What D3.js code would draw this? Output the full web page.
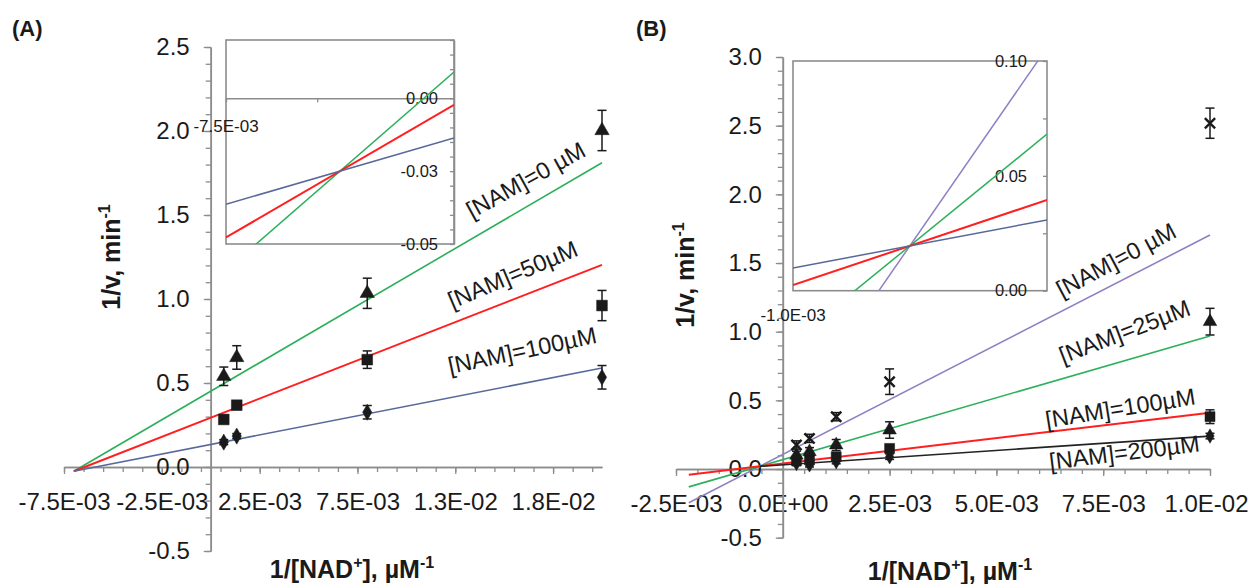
<!DOCTYPE html>
<html>
<head>
<meta charset="utf-8">
<script src="https://cdn.jsdelivr.net/npm/d3@7"></script>
<style>
  body { margin: 0; background: #fff; }
  svg { display: block; }
</style>
</head>
<body>
<svg id="chart" width="1251" height="584"></svg>
<script>
// ---------- Panel A: Lineweaver-Burk, NAM 0 / 50 / 100 µM ----------
const nadInvA = [0.000667, 0.00133, 0.008, 0.02];
const invRateA0 = [0.54, 0.652, 1.034, 2.003];
const errA0 = [0.055, 0.07, 0.09, 0.12];
const invRateA50 = [0.283, 0.368, 0.639, 0.961];
const errA50 = [0.02, 0.025, 0.052, 0.09];
const invRateA100 = [0.148, 0.184, 0.326, 0.534];
const errA100 = [0.015, 0.015, 0.04, 0.07];
const labelsA = ["[NAM]=0 µM", "[NAM]=50µM", "[NAM]=100µM"];
const slopesA = [68, 45.5, 22.75];          // fitted slopes
const crossA = [-0.007, -0.025];            // common intersection of the fits
const xMajorA = [-0.0075, -0.0025, 0.0025, 0.0075, 0.0125, 0.0175];
const xLabelsA = ["-7.5E-03", "-2.5E-03", "2.5E-03", "7.5E-03", "1.3E-02", "1.8E-02"];
const yMajorA = [-0.5, 0, 0.5, 1, 1.5, 2, 2.5];
const yLabelsA = ["-0.5", "0.0", "0.5", "1.0", "1.5", "2.0", "2.5"];
const insetXA = [-0.0075, -0.0071, -0.0067];
const insetXLabelA = "-7.5E-03";
const insetYA = [-0.05, -0.025, 0];
const insetYLabelsA = ["-0.05", "-0.03", "0.00"];

// ---------- Panel B: Lineweaver-Burk, NAM 0 / 25 / 100 / 200 µM ----------
const nadInvB = [0.00032, 0.000625, 0.00125, 0.0025, 0.01];
const invRateB0 = [0.175, 0.223, 0.381, 0.636, 2.518];
const errB0 = [0.03, 0.03, 0.03, 0.093, 0.11];
const invRateB25 = [0.10, 0.126, 0.175, 0.284, 1.073];
const errB25 = [0.03, 0.03, 0.04, 0.06, 0.097];
const invRateB100 = [0.06, 0.066, 0.09, 0.15, 0.381];
const errB100 = [0.02, 0.02, 0.02, 0.02, 0.05];
const invRateB200 = [0.04, 0.03, 0.053, 0.09, 0.24];
const errB200 = [0.015, 0.015, 0.015, 0.02, 0.02];
const labelsB = ["[NAM]=0 µM", "[NAM]=25µM", "[NAM]=100µM", "[NAM]=200µM"];
const slopesB = [159.8, 90.1, 37.05, 20.9];
const crossB = [-0.00054, 0.0195];
const lineStartB = [-0.0022, -0.0022, -0.0022, -0.00054];
const xMajorB = [-0.0025, 0, 0.0025, 0.005, 0.0075, 0.01];
const xLabelsB = ["-2.5E-03", "0.0E+00", "2.5E-03", "5.0E-03", "7.5E-03", "1.0E-02"];
const yMajorB = [-0.5, 0, 0.5, 1, 1.5, 2, 2.5, 3];
const yLabelsB = ["-0.5", "0.0", "0.5", "1.0", "1.5", "2.0", "2.5", "3.0"];
const insetYB = [0, 0.025, 0.05, 0.075, 0.1];
const insetYLabelsB = ["0.00", "", "0.05", "", "0.10"];
const insetXLabelB = "-1.0E-03";

// ---------- styling ----------
const FONT = '"Liberation Sans", Arial, Helvetica, sans-serif';
const AXIS = "#8c8c8c";
const INK = "#1a1a1a";
const GREEN = "#2bb05a", RED = "#ff1f1f", SLATE = "#58689a", PURPLE = "#8f80c4", BLACK = "#222";

const svg = d3.select("#chart").style("font-family", FONT);

const range = (a, b, step) => d3.range(Math.round((b - a) / step) + 1).map(i => +(a + i * step).toFixed(6));

function styleAxis(g, size) {
  g.select(".domain").attr("stroke", AXIS).attr("stroke-width", 1.6);
  g.selectAll(".tick line").attr("stroke", AXIS).attr("stroke-width", 1.3);
  g.selectAll("text").attr("fill", INK).style("font-size", size + "px").style("font-family", FONT);
}

function mainAxes(g, x, y, xMajor, xLabels, xMinorStep, yMajor, yLabels) {
  const [x0, x1] = x.domain(), [y0, y1] = y.domain();
  const xMinor = range(x0, x1, xMinorStep).filter(v => v <= x1 + 1e-9);
  const yMinor = range(y0, y1, 0.1);
  g.append("g").attr("transform", `translate(0,${y(0)})`)
    .call(d3.axisBottom(x).tickValues(xMinor).tickSize(5).tickSizeOuter(0).tickFormat(""))
    .call(s => styleAxis(s, 24));
  const xg = g.append("g").attr("transform", `translate(0,${y(0)})`)
    .call(d3.axisBottom(x).tickValues(xMajor).tickSize(7).tickSizeOuter(0).tickPadding(19)
      .tickFormat((d, i) => xLabels[i]))
    .call(s => styleAxis(s, 24));
  g.append("g").attr("transform", `translate(${x(0)},0)`)
    .call(d3.axisLeft(y).tickValues(yMinor).tickSize(5).tickSizeOuter(0).tickFormat(""))
    .call(s => styleAxis(s, 24));
  g.append("g").attr("transform", `translate(${x(0)},0)`)
    .call(d3.axisLeft(y).tickValues(yMajor).tickSize(7).tickSizeOuter(0).tickPadding(14)
      .tickFormat((d, i) => yLabels[i]))
    .call(s => styleAxis(s, 24));
  return xg;
}

function fitLine(g, x, y, slope, cross, xFrom, xTo, color, width) {
  const f = v => cross[1] + slope * (v - cross[0]);
  g.append("line")
    .attr("x1", x(xFrom)).attr("y1", y(f(xFrom)))
    .attr("x2", x(xTo)).attr("y2", y(f(xTo)))
    .attr("stroke", color).attr("stroke-width", width);
}

function points(g, x, y, xs, ys, errs, symbolType, size, stroked) {
  const data = xs.map((v, i) => ({ x: v, y: ys[i], e: errs[i] }));
  const eb = g.append("g").attr("stroke", INK).attr("stroke-width", 1.5);
  data.forEach(d => {
    const px = x(d.x), top = y(d.y + d.e), bot = y(d.y - d.e);
    eb.append("line").attr("x1", px).attr("x2", px).attr("y1", top).attr("y2", bot);
    eb.append("line").attr("x1", px - 4.5).attr("x2", px + 4.5).attr("y1", top).attr("y2", top);
    eb.append("line").attr("x1", px - 4.5).attr("x2", px + 4.5).attr("y1", bot).attr("y2", bot);
  });
  g.append("g").selectAll("path").data(data).join("path")
    .attr("transform", d => `translate(${x(d.x)},${y(d.y)})`)
    .attr("d", d3.symbol(symbolType, size))
    .attr("fill", stroked ? "none" : INK)
    .attr("stroke", INK)
    .attr("stroke-width", stroked ? 2.4 : 0.5);
}

function lineLabel(g, px, py, angle, text) {
  g.append("text")
    .attr("transform", `translate(${px},${py}) rotate(${-angle})`)
    .attr("fill", INK).style("font-size", "23.5px")
    .text(text);
}

function yTitle(g, cx, cy) {
  const t = g.append("text")
    .attr("transform", `translate(${cx},${cy}) rotate(-90)`)
    .attr("text-anchor", "middle")
    .attr("fill", INK).style("font-size", "25px").style("font-weight", "bold");
  t.append("tspan").text("1/v, min");
  t.append("tspan").attr("dy", -10).style("font-size", "16px").text("-1");
}

function xTitle(g, cx, cy) {
  const t = g.append("text").attr("x", cx).attr("y", cy)
    .attr("text-anchor", "middle")
    .attr("fill", INK).style("font-size", "25px").style("font-weight", "bold");
  t.append("tspan").text("1/[NAD");
  t.append("tspan").attr("dy", -10).style("font-size", "16px").text("+");
  t.append("tspan").attr("dy", 10).text("], µM");
  t.append("tspan").attr("dy", -10).style("font-size", "16px").text("-1");
}

// ================= Panel A =================
const gA = svg.append("g");
const xA = d3.scaleLinear().domain([-0.0075, 0.02]).range([64, 602]);
const yA = d3.scaleLinear().domain([-0.5, 2.5]).range([551, 47]);
mainAxes(gA, xA, yA, xMajorA, xLabelsA, 0.001, yMajorA, yLabelsA);

const colorsA = [GREEN, RED, SLATE];
slopesA.forEach((s, i) => fitLine(gA, xA, yA, s, crossA, crossA[0], 0.02, colorsA[i], i === 1 ? 2 : 1.6));

points(gA, xA, yA, nadInvA, invRateA0, errA0, d3.symbolTriangle, 90, false);
points(gA, xA, yA, nadInvA, invRateA50, errA50, d3.symbolSquare, 115, false);
points(gA, xA, yA, nadInvA, invRateA100, errA100, d3.symbolDiamond, 75, false);

lineLabel(gA, xA(0.01336), yA(1.476), 29, labelsA[0]);
lineLabel(gA, xA(0.01234), yA(0.940), 23, labelsA[1]);
lineLabel(gA, xA(0.01223), yA(0.553), 12, labelsA[2]);

yTitle(gA, 120, 257);
xTitle(gA, 352, 578);
gA.append("text").attr("x", 12).attr("y", 36).attr("fill", INK)
  .style("font-size", "22px").style("font-weight", "bold").text("(A)");

// ---- inset A (zoom on the intersection) ----
const iA = svg.append("g");
const ixA = d3.scaleLinear().domain([-0.0075, -0.0065]).range([226, 454]);
const iyA = d3.scaleLinear().domain([-0.05, 0.02]).range([244, 40]);
svg.append("clipPath").attr("id", "clipA").append("rect")
  .attr("x", 226).attr("y", 40).attr("width", 228).attr("height", 204);
iA.append("rect").attr("x", 226).attr("y", 40).attr("width", 228).attr("height", 204)
  .attr("fill", "#fff").attr("stroke", AXIS).attr("stroke-width", 1.6);
iA.append("g").attr("transform", `translate(0,${iyA(0)})`)
  .call(d3.axisBottom(ixA).tickValues(insetXA).tickSize(4).tickSizeOuter(0).tickFormat(""))
  .call(s => styleAxis(s, 16));
iA.append("g").attr("transform", `translate(454,0)`)
  .call(d3.axisLeft(iyA).tickValues(range(-0.05, 0.02, 0.005)).tickSize(4).tickSizeOuter(0).tickFormat(""))
  .call(s => styleAxis(s, 16));
iA.append("g").attr("transform", `translate(454,0)`)
  .call(d3.axisLeft(iyA).tickValues(insetYA).tickSize(0).tickSizeOuter(0).tickPadding(16)
    .tickFormat((d, i) => insetYLabelsA[i]))
  .call(s => styleAxis(s, 16.5))
  .call(s => s.select(".domain").remove());
iA.append("text").attr("x", ixA(insetXA[0])).attr("y", iyA(0) + 34)
  .attr("text-anchor", "middle").attr("fill", INK).style("font-size", "17px").text(insetXLabelA);
const iAl = iA.append("g").attr("clip-path", "url(#clipA)");
slopesA.forEach((s, i) => fitLine(iAl, ixA, iyA, s, crossA, -0.0075, -0.0065, colorsA[i], i === 1 ? 2 : 1.5));

// ================= Panel B =================
const gB = svg.append("g");
const xB = d3.scaleLinear().domain([-0.0025, 0.01]).range([676, 1210]);
const yB = d3.scaleLinear().domain([-0.5, 3.0]).range([537.7, 57]);
const xAxisB = mainAxes(gB, xB, yB, xMajorB, xLabelsB, 0.0005, yMajorB, yLabelsB);
// keep the last tick label inside the page edge
xAxisB.selectAll(".tick text").filter((d, i) => i === xMajorB.length - 1).attr("dx", -4);

const colorsB = [PURPLE, GREEN, RED, BLACK];
slopesB.forEach((s, i) => fitLine(gB, xB, yB, s, crossB, lineStartB[i], 0.01, colorsB[i], i === 2 ? 2 : 1.6));

points(gB, xB, yB, nadInvB, invRateB200, errB200, d3.symbolDiamond, 60, false);
points(gB, xB, yB, nadInvB, invRateB100, errB100, d3.symbolSquare, 100, false);
points(gB, xB, yB, nadInvB, invRateB25, errB25, d3.symbolTriangle, 80, false);
points(gB, xB, yB, nadInvB, invRateB0, errB0, d3.symbolTimes, 70, true);

lineLabel(gB, xB(0.00653), yB(1.245), 28, labelsB[0]);
lineLabel(gB, xB(0.00656), yB(0.765), 21, labelsB[1]);
lineLabel(gB, xB(0.00618), yB(0.299), 9, labelsB[2]);
lineLabel(gB, xB(0.00626), yB(-0.005), 7, labelsB[3]);

yTitle(gB, 694, 275);
xTitle(gB, 950, 580);
gB.append("text").attr("x", 636).attr("y", 36).attr("fill", INK)
  .style("font-size", "22px").style("font-weight", "bold").text("(B)");

// ---- inset B ----
const iB = svg.append("g");
const ixB = d3.scaleLinear().domain([-0.001, 0]).range([793, 1047]);
const iyB = d3.scaleLinear().domain([0, 0.1]).range([290.7, 61]);
svg.append("clipPath").attr("id", "clipB").append("rect")
  .attr("x", 793).attr("y", 61).attr("width", 254).attr("height", 229.7);
iB.append("rect").attr("x", 793).attr("y", 61).attr("width", 254).attr("height", 229.7)
  .attr("fill", "#fff").attr("stroke", AXIS).attr("stroke-width", 1.6);
iB.append("g").attr("transform", `translate(1047,0)`)
  .call(d3.axisLeft(iyB).tickValues(insetYB).tickSize(4).tickSizeOuter(0).tickPadding(16)
    .tickFormat((d, i) => insetYLabelsB[i]))
  .call(s => styleAxis(s, 16.5))
  .call(s => s.select(".domain").remove());
iB.append("text").attr("x", ixB(-0.001)).attr("y", iyB(0) + 30)
  .attr("text-anchor", "middle").attr("fill", INK).style("font-size", "17px").text(insetXLabelB);
const insetColorsB = [PURPLE, GREEN, RED, SLATE];
const iBl = iB.append("g").attr("clip-path", "url(#clipB)");
slopesB.forEach((s, i) => fitLine(iBl, ixB, iyB, s, crossB, -0.001, 0, insetColorsB[i], i === 2 ? 2 : 1.5));
</script>
</body>
</html>
